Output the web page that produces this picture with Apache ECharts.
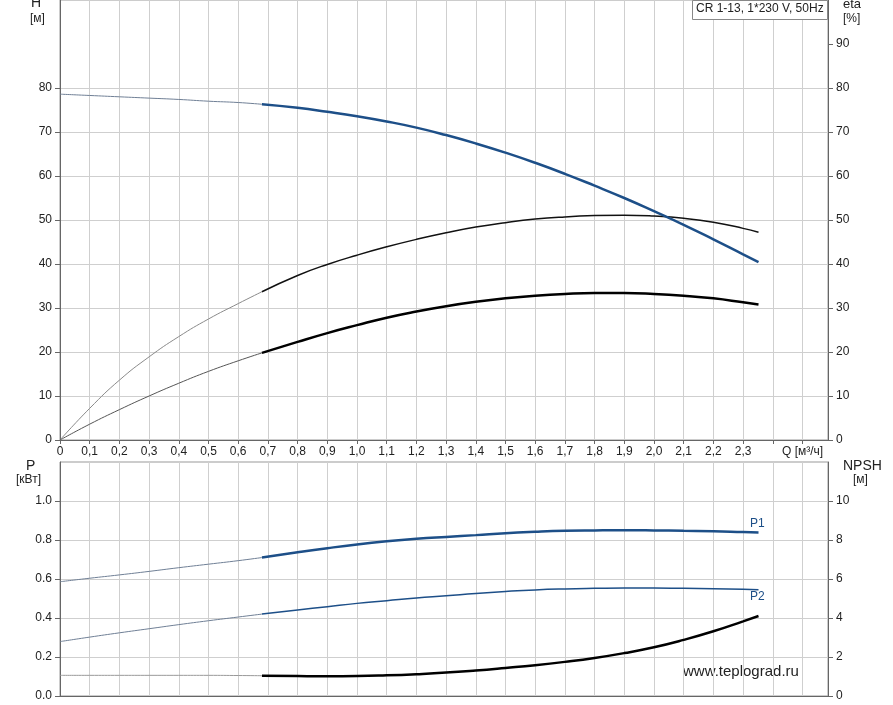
<!DOCTYPE html>
<html><head><meta charset="utf-8">
<script src="https://cdn.jsdelivr.net/npm/echarts@6/dist/echarts.min.js"></script>
<style>html,body{margin:0;padding:0;background:#fff}#c{width:893px;height:705px}</style>
</head><body><div id="c"></div>
<script>
// Flow Q [m3/h]
const qThin = [0, 0.1, 0.2, 0.3, 0.4, 0.5, 0.6, 0.68];
const qThick = [0.68, 0.8, 0.9, 1.0, 1.1, 1.2, 1.3, 1.4, 1.5, 1.6, 1.7, 1.8, 1.9, 2.0, 2.1, 2.2, 2.3, 2.352];
// Head H [m]
const hThin = [78.6, 78.3, 78.0, 77.7, 77.4, 77.0, 76.7, 76.3];
const hThick = [76.3, 75.5, 74.6, 73.6, 72.4, 71.0, 69.3, 67.4, 65.3, 63.0, 60.5, 57.8, 55.0, 52.0, 48.9, 45.6, 42.2, 40.45];
// Pump efficiency eta [%]
const etaThin = [0, 7.2, 13.6, 18.9, 23.5, 27.5, 31.0, 33.7];
const etaThick = [33.7, 37.4, 39.9, 42.0, 43.9, 45.6, 47.1, 48.4, 49.4, 50.2, 50.7, 51.0, 51.1, 50.9, 50.4, 49.5, 48.1, 47.2];
// Total efficiency [%]
const eta2Thin = [0, 3.6, 6.9, 10.0, 12.9, 15.6, 18.0, 19.8];
const eta2Thick = [19.8, 22.3, 24.3, 26.1, 27.8, 29.2, 30.4, 31.4, 32.2, 32.8, 33.2, 33.4, 33.4, 33.2, 32.8, 32.2, 31.3, 30.8];
// Power P1, P2 [kW]
const p1Thin = [0.586, 0.604, 0.621, 0.639, 0.658, 0.676, 0.694, 0.710];
const p1Thick = [0.710, 0.737, 0.758, 0.777, 0.793, 0.806, 0.816, 0.825, 0.835, 0.842, 0.847, 0.849, 0.850, 0.849, 0.847, 0.845, 0.841, 0.839];
const p2Thin = [0.279, 0.302, 0.324, 0.345, 0.366, 0.386, 0.405, 0.420];
const p2Thick = [0.420, 0.441, 0.458, 0.475, 0.489, 0.503, 0.514, 0.526, 0.536, 0.544, 0.549, 0.552, 0.554, 0.554, 0.552, 0.550, 0.547, 0.545];
// NPSH [m]
const npshThin = [1.06, 1.06, 1.06, 1.06, 1.06, 1.06, 1.05, 1.04];
const npshThick = [1.04, 1.02, 1.01, 1.02, 1.06, 1.12, 1.20, 1.31, 1.44, 1.58, 1.75, 1.95, 2.20, 2.50, 2.88, 3.32, 3.83, 4.10];

// Tick values
const hTicks = [0, 10, 20, 30, 40, 50, 60, 70, 80];
const etaTicks = [0, 10, 20, 30, 40, 50, 60, 70, 80, 90];
const pTicks = [0, 0.2, 0.4, 0.6, 0.8, 1.0];
const nTicks = [0, 2, 4, 6, 8, 10];

const xMin = 0, xMax = 2.586, xStep = 0.1;
const hMax = 100, hStep = 10;
const pMax = 1.2, pStep = 0.2;
const nMax = 12, nStep = 2;

const FONT = 'Liberation Sans, Arial, sans-serif';
const BLUE = '#1d4f88', BLUE_THIN = '#6f7f95', GREY = '#8a8a8a';
const pair = (xs, ys) => xs.map((x, i) => [x, ys[i]]);
const chart = echarts.init(document.getElementById('c'));

const gridLine = {show: true, lineStyle: {color: '#cfcfcf', width: 1}};
const axLine = {show: true, lineStyle: {color: '#666', width: 1}};
const lbl = {color: '#222', fontSize: 12, fontFamily: FONT};

function line(xi, yi, xs, ys, color, width, z) {
  return {type: 'line', xAxisIndex: xi, yAxisIndex: yi, data: pair(xs, ys), smooth: 0.5,
    symbol: 'none', lineStyle: {color: color, width: width}, z: z || 3, silent: true};
}
function yAx(grid, max, step, pos, ticks, fmt) {
  return {gridIndex: grid, type: 'value', min: 0, max: max, interval: step, position: pos,
    axisLine: axLine,
    axisTick: {show: true, length: 5, customValues: ticks, lineStyle: {color: '#666'}},
    splitLine: pos === 'left' ? gridLine : {show: false},
    axisLabel: Object.assign({}, lbl, {margin: 8, customValues: ticks, formatter: fmt})};
}

chart.setOption({
  animation: false,
  grid: [
    {left: 60, right: 65, top: 0, height: 440, show: true, borderColor: '#999', borderWidth: 1},
    {left: 60, right: 65, top: 462, height: 234, show: true, borderColor: '#999', borderWidth: 1}
  ],
  xAxis: [
    {gridIndex: 0, type: 'value', min: xMin, max: xMax, interval: xStep,
      axisLine: axLine, axisTick: {show: true, length: 4, lineStyle: {color: '#666'}},
      splitLine: gridLine,
      axisLabel: Object.assign({}, lbl, {margin: 6, showMaxLabel: false,
        formatter: v => v > 2.35 ? '' : (v === 0 ? '0' : v.toFixed(1).replace('.', ','))})},
    {gridIndex: 1, type: 'value', min: xMin, max: xMax, interval: xStep,
      axisLine: axLine, axisTick: {show: false}, splitLine: gridLine, axisLabel: {show: false}}
  ],
  yAxis: [
    yAx(0, hMax, hStep, 'left', hTicks, v => String(v)),
    yAx(0, hMax, hStep, 'right', etaTicks, v => String(v)),
    yAx(1, pMax, pStep, 'left', pTicks, v => Number(v).toFixed(1)),
    yAx(1, nMax, nStep, 'right', nTicks, v => String(v))
  ],
  series: [
    line(0, 0, qThin, hThin, BLUE_THIN, 1),
    line(0, 0, qThick, hThick, BLUE, 2.5, 4),
    line(0, 1, qThin, etaThin, GREY, 1),
    line(0, 1, qThick, etaThick, '#111', 1.5),
    line(0, 1, qThin, eta2Thin, '#555', 1),
    line(0, 1, qThick, eta2Thick, '#000', 2.5),
    line(1, 2, qThin, p1Thin, BLUE_THIN, 1),
    line(1, 2, qThick, p1Thick, BLUE, 2.5),
    line(1, 2, qThin, p2Thin, BLUE_THIN, 1),
    line(1, 2, qThick, p2Thick, BLUE, 1.5),
    line(1, 3, qThin, npshThin, '#999', 1),
    line(1, 3, qThick, npshThick, '#000', 2.5)
  ],
  graphic: [
    {type: 'text', left: 31, top: -4, style: {text: 'H', fontSize: 14, fontFamily: FONT, fill: '#222'}},
    {type: 'text', left: 30, top: 13, style: {text: '[м]', fontSize: 12, fontFamily: FONT, fill: '#222'}},
    {type: 'text', left: 843, top: -2, style: {text: 'eta', fontSize: 13, fontFamily: FONT, fill: '#222'}},
    {type: 'text', left: 843, top: 13, style: {text: '[%]', fontSize: 12, fontFamily: FONT, fill: '#222'}},
    {type: 'rect', shape: {x: 692.5, y: 0.5, width: 135, height: 19}, style: {fill: '#fff', stroke: '#888', lineWidth: 1}, z: 10},
    {type: 'text', left: 696, top: 3, z: 11, style: {text: 'CR 1-13, 1*230 V, 50Hz', fontSize: 12, fontFamily: FONT, fill: '#222'}},
    {type: 'text', left: 782, top: 446, style: {text: 'Q [м³/ч]', fontSize: 12, fontFamily: FONT, fill: '#222'}},
    {type: 'text', left: 26, top: 459, style: {text: 'P', fontSize: 14, fontFamily: FONT, fill: '#222'}},
    {type: 'text', left: 16, top: 474, style: {text: '[кВт]', fontSize: 12, fontFamily: FONT, fill: '#222'}},
    {type: 'text', left: 843, top: 459, style: {text: 'NPSH', fontSize: 14, fontFamily: FONT, fill: '#222'}},
    {type: 'text', left: 853, top: 474, style: {text: '[м]', fontSize: 12, fontFamily: FONT, fill: '#222'}},
    {type: 'text', left: 750, top: 518, style: {text: 'P1', fontSize: 12, fontFamily: FONT, fill: BLUE}},
    {type: 'text', left: 750, top: 591, style: {text: 'P2', fontSize: 12, fontFamily: FONT, fill: BLUE}},
    {type: 'text', left: 683, top: 664, style: {text: 'www.teplograd.ru', fontSize: 15, fontFamily: FONT, fill: '#222'}}
  ]
});
</script></body></html>
